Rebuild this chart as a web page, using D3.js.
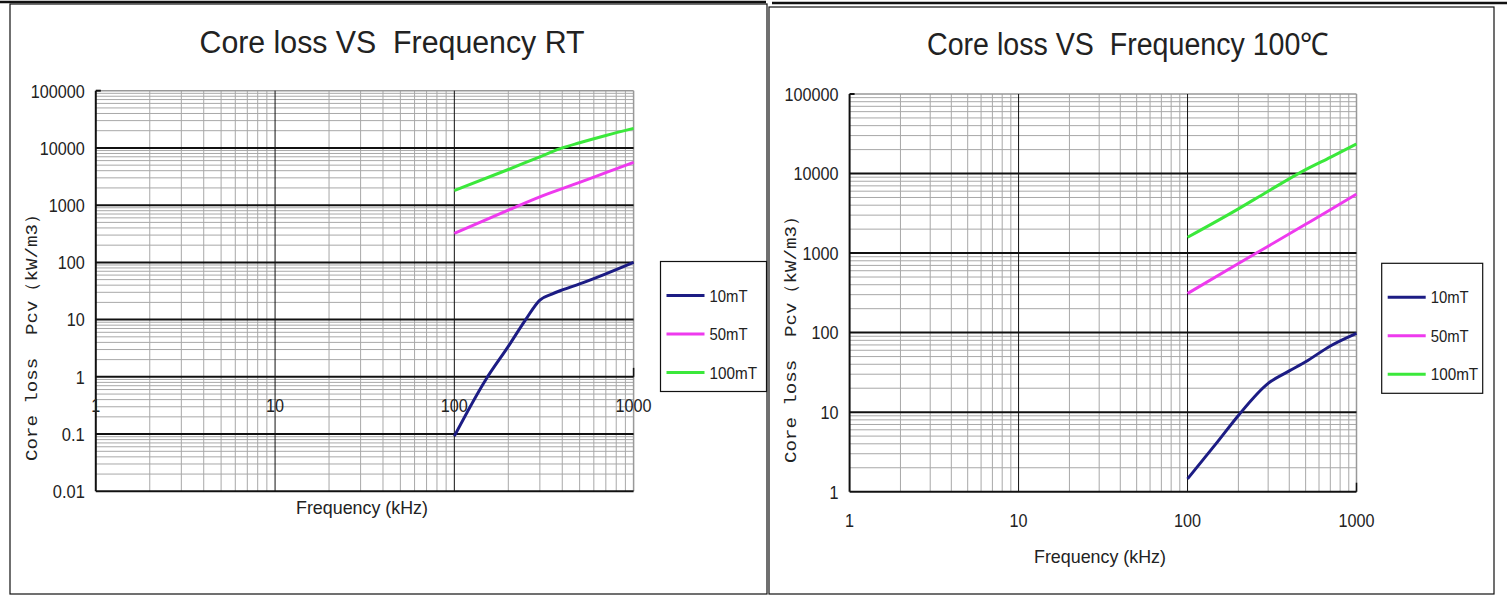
<!DOCTYPE html>
<html>
<head>
<meta charset="utf-8">
<script src="https://cdn.jsdelivr.net/npm/d3@7"></script>
<style>
  body { margin:0; background:#fff; }
  svg { display:block; }
  text { fill:#222; white-space:pre; }
</style>
</head>
<body>
<div id="graph"></div>
<script>
// series names + colours
const seriesNames = ["10mT", "50mT", "100mT"];
const seriesColors = ["#1c1c84", "#ee3aee", "#3be83b"];

// RT panel
const rtFreq10 = [100, 150, 200, 250, 300, 350, 400, 500, 700, 1000];
const rtLoss10 = [0.092, 0.9, 3.4, 10, 22, 28, 33, 42, 63, 100];
const rtFreq50 = [100, 200, 300, 500, 700, 1000];
const rtLoss50 = [320, 820, 1400, 2500, 3700, 5600];
const rtFreq100 = [100, 200, 300, 400, 500, 700, 1000];
const rtLoss100 = [1800, 4200, 7000, 10000, 12300, 16500, 22000];

// 100C panel
const htFreq10 = [100, 150, 200, 300, 400, 500, 700, 1000];
const htLoss10 = [1.45, 4.2, 9.1, 23, 33, 43, 68, 98];
const htFreq50 = [100, 200, 300, 500, 700, 1000];
const htLoss50 = [310, 740, 1220, 2300, 3500, 5500];
const htFreq100 = [100, 200, 300, 500, 700, 1000];
const htLoss100 = [1580, 3600, 6000, 11200, 16000, 23500];

// ticks
const xTicks = [1, 10, 100, 1000];
const xTickLabels = ["1", "10", "100", "1000"];
const rtYTicks = [0.01, 0.1, 1, 10, 100, 1000, 10000, 100000];
const rtYTickLabels = ["0.01", "0.1", "1", "10", "100", "1000", "10000", "100000"];
const htYTicks = [1, 10, 100, 1000, 10000, 100000];
const htYTickLabels = ["1", "10", "100", "1000", "10000", "100000"];

const W = 1507, H = 596;
const sansFont = "'Liberation Sans Narrow','Liberation Sans',Arial,sans-serif";
const monoFont = "'Liberation Mono','DejaVu Sans Mono',monospace";

// narrow digits like the original
function labelWidth(s) {
  let w = 0;
  for (let c of s) w += (c === '.') ? 5 : 9;
  return w;
}

let svg = d3.select('#graph')
  .append('svg')
  .attr('width', W)
  .attr('height', H);

// outer frames
svg.append('line').attr('x1', 0).attr('x2', 766).attr('y1', 2).attr('y2', 2)
  .attr('stroke', '#111').attr('stroke-width', 2.5);
svg.append('rect').attr('x', 10).attr('y', 4).attr('width', 757).attr('height', 590)
  .attr('fill', 'none').attr('stroke', '#111').attr('stroke-width', 1.2);
svg.append('line').attr('x1', 772).attr('x2', 1507).attr('y1', 3).attr('y2', 3)
  .attr('stroke', '#111').attr('stroke-width', 2.5);
svg.append('rect').attr('x', 769).attr('y', 7).attr('width', 725).attr('height', 587)
  .attr('fill', 'none').attr('stroke', '#111').attr('stroke-width', 1.2);

function drawPanel(p) {
  let x = d3.scaleLog().domain([1, 1000]).range([p.left, p.right]);
  let y = d3.scaleLog().domain([p.yTicks[0], p.yTicks[p.yTicks.length - 1]]).range([p.bottom, p.top]);
  let g = svg.append('g');

  // minor grid
  let minorX = x.ticks().filter(v => !xTicks.includes(v));
  let minorY = y.ticks().filter(v => !p.yTicks.includes(v));
  g.selectAll('.mx').data(minorX).enter().append('line')
    .attr('x1', d => x(d)).attr('x2', d => x(d))
    .attr('y1', p.top).attr('y2', p.bottom)
    .attr('stroke', '#a8a8a8').attr('stroke-width', 1);
  g.selectAll('.my').data(minorY).enter().append('line')
    .attr('x1', p.left).attr('x2', p.right)
    .attr('y1', d => y(d)).attr('y2', d => y(d))
    .attr('stroke', '#a8a8a8').attr('stroke-width', 1);

  // top / right edge (grey)
  g.append('line').attr('x1', p.left).attr('x2', p.right).attr('y1', p.top).attr('y2', p.top)
    .attr('stroke', '#999').attr('stroke-width', 1.5);
  g.append('line').attr('x1', p.right).attr('x2', p.right).attr('y1', p.top).attr('y2', p.bottom)
    .attr('stroke', '#999').attr('stroke-width', 1.5);

  // major grid
  g.selectAll('.Mx').data(xTicks.slice(1, 3)).enter().append('line')
    .attr('x1', d => x(d)).attr('x2', d => x(d))
    .attr('y1', p.top).attr('y2', p.bottom)
    .attr('stroke', '#111').attr('stroke-width', 1);
  g.selectAll('.My').data(p.yTicks.slice(1, -1)).enter().append('line')
    .attr('x1', p.left).attr('x2', p.right)
    .attr('y1', d => y(d)).attr('y2', d => y(d))
    .attr('stroke', '#111').attr('stroke-width', 2);

  // axes
  g.append('line').attr('x1', p.left).attr('x2', p.left).attr('y1', p.top).attr('y2', p.bottom)
    .attr('stroke', '#111').attr('stroke-width', 2);
  g.append('line').attr('x1', p.left).attr('x2', p.right).attr('y1', p.bottom).attr('y2', p.bottom)
    .attr('stroke', '#111').attr('stroke-width', 2);
  g.append('line').attr('x1', p.left).attr('x2', p.left + 5).attr('y1', p.top).attr('y2', p.top)
    .attr('stroke', '#111').attr('stroke-width', 2);
  g.append('line').attr('x1', p.right).attr('x2', p.right)
    .attr('y1', y(p.xAxisAt) - 9).attr('y2', y(p.xAxisAt))
    .attr('stroke', '#111').attr('stroke-width', 1.5);

  // y tick labels
  g.selectAll('.yl').data(p.yTicks).enter().append('text')
    .attr('x', p.left - 11)
    .attr('y', d => y(d))
    .attr('dy', '0.36em')
    .attr('text-anchor', 'end')
    .attr('textLength', (d, i) => labelWidth(p.yTickLabels[i]))
    .attr('lengthAdjust', 'spacingAndGlyphs')
    .style('font-family', sansFont)
    .style('font-size', '19px')
    .text((d, i) => p.yTickLabels[i]);

  // x tick labels
  g.selectAll('.xl').data(xTicks).enter().append('text')
    .attr('x', d => x(d))
    .attr('y', p.xLabelY)
    .attr('text-anchor', 'middle')
    .attr('textLength', (d, i) => labelWidth(xTickLabels[i]))
    .attr('lengthAdjust', 'spacingAndGlyphs')
    .style('font-family', sansFont)
    .style('font-size', '19px')
    .text((d, i) => xTickLabels[i]);

  // titles
  g.append('text')
    .attr('x', p.titleX).attr('y', p.titleY)
    .attr('text-anchor', 'middle')
    .attr('textLength', p.titleW).attr('lengthAdjust', 'spacingAndGlyphs')
    .style('font-family', sansFont)
    .style('font-size', '31px')
    .text(p.title);

  g.append('text')
    .attr('x', p.fqX).attr('y', p.fqY)
    .attr('text-anchor', 'middle')
    .attr('textLength', 132).attr('lengthAdjust', 'spacingAndGlyphs')
    .style('font-family', sansFont)
    .style('font-size', '19px')
    .text('Frequency (kHz)');

  g.append('text')
    .attr('transform', `translate(${p.ylabX},${p.ylabY}) rotate(-90)`)
    .attr('text-anchor', 'middle')
    .attr('textLength', 256).attr('lengthAdjust', 'spacingAndGlyphs')
    .style('font-family', monoFont)
    .style('font-size', '17px')
    .text('Core loss  Pcv（kW/m3）');

  // curves
  let line = d3.line()
    .x(d => x(d[0]))
    .y(d => y(d[1]))
    .curve(d3.curveMonotoneX);
  p.series.forEach((s, i) => {
    g.append('path')
      .datum(d3.zip(s[0], s[1]))
      .attr('d', line)
      .attr('fill', 'none')
      .attr('stroke', seriesColors[i])
      .attr('stroke-width', 3)
      .attr('stroke-linejoin', 'round');
  });

  // legend
  let lg = g.append('g').attr('transform', `translate(${p.legX},${p.legY})`);
  lg.append('rect').attr('x', 0).attr('y', 0).attr('width', p.legW).attr('height', 130)
    .attr('fill', '#fff').attr('stroke', '#111').attr('stroke-width', 1.2);
  seriesNames.forEach((n, i) => {
    let yy = 34 + i * 38.5;
    lg.append('line').attr('x1', 6).attr('x2', 44).attr('y1', yy).attr('y2', yy)
      .attr('stroke', seriesColors[i]).attr('stroke-width', 3);
    lg.append('text').attr('x', 49).attr('y', yy).attr('dy', '0.36em')
      .attr('textLength', n.length * 9.5).attr('lengthAdjust', 'spacingAndGlyphs')
      .style('font-family', sansFont)
      .style('font-size', '17px')
      .text(n);
  });
}

drawPanel({
  left: 95.8, right: 633.6, top: 90.7, bottom: 491.3,
  yTicks: rtYTicks, yTickLabels: rtYTickLabels,
  xAxisAt: 1, xLabelY: 412,
  title: 'Core loss VS  Frequency RT', titleX: 392, titleY: 53, titleW: 385,
  fqX: 362, fqY: 514,
  ylabX: 37, ylabY: 333,
  legX: 660.5, legY: 261.5, legW: 106,
  series: [[rtFreq10, rtLoss10], [rtFreq50, rtLoss50], [rtFreq100, rtLoss100]]
});

drawPanel({
  left: 849.6, right: 1356.5, top: 94, bottom: 491.7,
  yTicks: htYTicks, yTickLabels: htYTickLabels,
  xAxisAt: 1, xLabelY: 527,
  title: 'Core loss VS  Frequency 100℃', titleX: 1128, titleY: 55, titleW: 402,
  fqX: 1100, fqY: 563,
  ylabX: 796, ylabY: 335,
  legX: 1381.7, legY: 263.3, legW: 101,
  series: [[htFreq10, htLoss10], [htFreq50, htLoss50], [htFreq100, htLoss100]]
});
</script>
</body>
</html>
